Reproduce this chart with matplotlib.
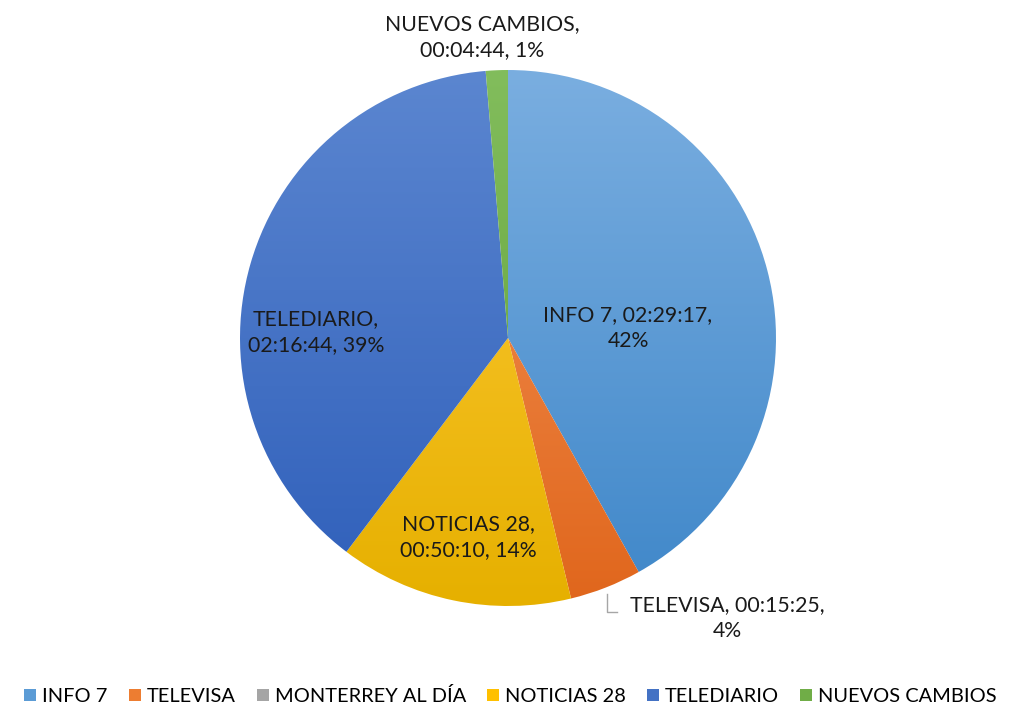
import matplotlib.pyplot as plt
import numpy as np
from matplotlib.colors import LinearSegmentedColormap
from matplotlib.patches import Patch

plt.rcParams['font.family'] = ['Lato', 'DejaVu Sans']

# data
channels = ["INFO 7", "TELEVISA", "MONTERREY AL DÍA", "NOTICIAS 28", "TELEDIARIO", "NUEVOS CAMBIOS"]
durations = ["02:29:17", "00:15:25", "00:00:00", "00:50:10", "02:16:44", "00:04:44"]
pct_labels = ["42%", "4%", "0%", "14%", "39%", "1%"]
seconds = [sum(int(p) * m for p, m in zip(d.split(":"), (3600, 60, 1))) for d in durations]

# gradient colours (top, bottom) per slice
top_cols = ["#7aaee0", "#f4955a", "#bdbdbd", "#ffcb3a", "#5b86d0", "#82bd5c"]
bot_cols = ["#3f87c9", "#e0661c", "#8f8f8f", "#e6b000", "#2f5fba", "#5e9c36"]
legend_cols = ["#5b9bd5", "#ed7d31", "#a5a5a5", "#ffc000", "#4472c4", "#70ad47"]

fig = plt.figure(figsize=(10.15, 7.06), dpi=100)
ax = fig.add_axes([0, 0, 1, 1])

cx, cy, r = 508, 368, 268
wedges, _ = ax.pie(seconds, center=(cx, cy), radius=r, startangle=90,
                   counterclock=False, frame=True,
                   wedgeprops=dict(linewidth=0, edgecolor="none"))
ax.set_aspect("auto")
ax.axis("off")

grad = np.linspace(1, 0, 256).reshape(-1, 1)
for w, tc, bc in zip(wedges, top_cols, bot_cols):
    w.set_facecolor("none")
    cmap = LinearSegmentedColormap.from_list("g", [bc, tc])
    im = ax.imshow(grad, cmap=cmap, extent=(cx - r, cx + r, cy - r, cy + r),
                   aspect="auto", origin="upper", zorder=1)
    im.set_clip_path(w)

ax.set_xlim(0, 1015)
ax.set_ylim(0, 706)

fs = 15.3
def lab(x, y, s):
    ax.text(x, 706 - y, s, ha="center", va="center", fontsize=fs, color="#1a1a1a",
            linespacing=1.35, zorder=5)

lab(628, 328, f"{channels[0]}, {durations[0]},\n{pct_labels[0]}")
lab(316, 332, f"{channels[4]},\n{durations[4]}, {pct_labels[4]}")
lab(468, 537, f"{channels[3]},\n{durations[3]}, {pct_labels[3]}")
lab(727, 618, f"{channels[1]}, {durations[1]},\n{pct_labels[1]}")
lab(482, 37, f"{channels[5]},\n{durations[5]}, {pct_labels[5]}")

# leader line for TELEVISA
ax.plot([607, 607, 617], [706 - 594, 706 - 612, 706 - 612], color="#a6a6a6", lw=1, zorder=4)

handles = [Patch(facecolor=c, edgecolor="none") for c in legend_cols]
fig.legend(handles, channels, loc="center", bbox_to_anchor=(0.503, 10 / 706), ncol=6,
           frameon=False, fontsize=14.4, handlelength=0.6, handleheight=0.6,
           handletextpad=0.3, columnspacing=1.05, borderpad=0)

plt.savefig("out.png", dpi=100)
